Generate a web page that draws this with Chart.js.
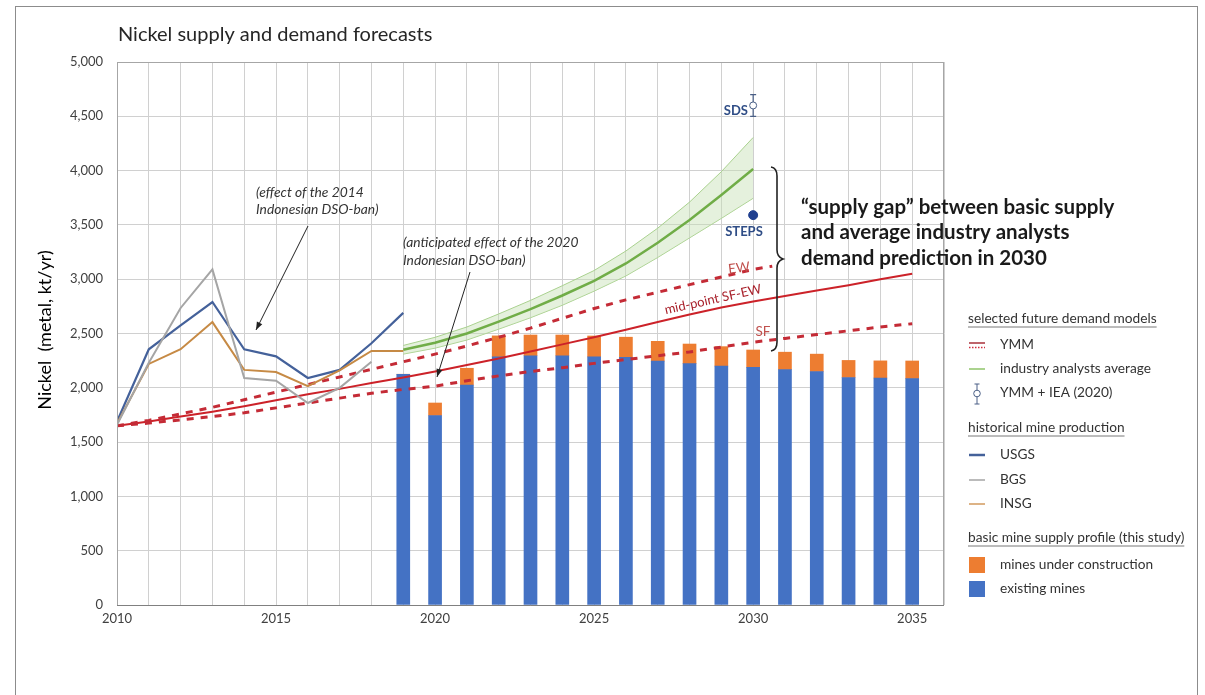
<!DOCTYPE html>
<html>
<head>
<meta charset="utf-8">
<script src="https://cdn.jsdelivr.net/npm/chart.js@4.4.1/dist/chart.umd.min.js"></script>
<style>
  html, body { margin: 0; padding: 0; background: #fff; }
  #wrap { position: relative; width: 1205px; height: 695px; overflow: hidden; }
  #frame { position: absolute; left: 15px; top: 6px; width: 1183px; height: 730px; border: 1.5px solid #8c8c8c; box-sizing: border-box; }
  #c { position: absolute; left: 0; top: 0; }
</style>
</head>
<body>
<div id="wrap"><div id="frame"></div><canvas id="c" width="1205" height="695"></canvas></div>
<script>
// ---------- données ----------
const histYears = [2010, 2011, 2012, 2013, 2014, 2015, 2016, 2017, 2018, 2019];
const usgs = [1690, 2355, 2575, 2790, 2355, 2290, 2090, 2165, 2410, 2690];
const bgs  = [1660, 2230, 2735, 3090, 2090, 2065, 1860, 2000, 2240];
const insg = [1670, 2220, 2355, 2605, 2165, 2145, 2015, 2160, 2340, 2340];

const ymmYears = [2010, 2011, 2012, 2013, 2014, 2015, 2016, 2017, 2018, 2019, 2020, 2021, 2022,
                  2023, 2024, 2025, 2026, 2027, 2028, 2029, 2030, 2031, 2032, 2033, 2034, 2035];
const ymmMid = [1650, 1690, 1735, 1780, 1830, 1885, 1940, 1990, 2045, 2095, 2150, 2210, 2270,
                2335, 2400, 2465, 2535, 2605, 2675, 2740, 2795, 2845, 2895, 2945, 3000, 3050];
const ewYears = [2010, 2011, 2012, 2013, 2014, 2015, 2016, 2017, 2018, 2019, 2020, 2021, 2022,
                 2023, 2024, 2025, 2026, 2027, 2028, 2029, 2030, 2030.6];
const ymmEW  = [1650, 1700, 1760, 1820, 1890, 1960, 2030, 2100, 2170, 2240, 2310, 2385, 2465,
                2550, 2640, 2730, 2810, 2880, 2950, 3020, 3090, 3120];
const ymmSF  = [1650, 1675, 1705, 1735, 1770, 1815, 1860, 1905, 1950, 1985, 2015, 2065, 2110,
                2150, 2185, 2225, 2260, 2295, 2330, 2375, 2420, 2455, 2490, 2525, 2560, 2590];

const analystYears = [2019, 2020, 2021, 2022, 2023, 2024, 2025, 2026, 2027, 2028, 2029, 2030];
const analystAvg  = [2350, 2415, 2500, 2610, 2725, 2850, 2985, 3145, 3335, 3545, 3775, 4015];
const analystHigh = [2390, 2465, 2560, 2680, 2805, 2940, 3080, 3260, 3470, 3710, 3990, 4305];
const analystLow  = [2310, 2365, 2440, 2540, 2645, 2760, 2890, 3030, 3200, 3380, 3560, 3745];

const ieaYear = 2030;
const sdsValue = 4600, sdsLow = 4500, sdsHigh = 4700;
const stepsValue = 3590;

const supplyYears = [2019, 2020, 2021, 2022, 2023, 2024, 2025, 2026, 2027, 2028, 2029, 2030, 2031, 2032, 2033, 2034, 2035];
const existingMines     = [2125, 1745, 2025, 2285, 2295, 2295, 2285, 2280, 2245, 2222, 2200, 2188, 2168, 2150, 2095, 2090, 2085];
const constructionMines = [0, 115, 155, 193, 191, 191, 192, 186, 183, 181, 179, 160, 160, 160, 157, 158, 162];

const xTicks = [2010, 2015, 2020, 2025, 2030, 2035];

// ---------- helpers ----------
const FONT = 'Lato, "Open Sans", sans-serif';
const pts = (xs, ys) => ys.map((y, i) => ({ x: xs[i], y }));
const line = (label, data, color, width, extra = {}) => ({
  type: 'line', label, data, borderColor: color, borderWidth: width,
  pointRadius: 0, tension: 0, fill: false, order: 1, ...extra
});

function arrow(ctx, x1, y1, x2, y2) {
  ctx.save();
  ctx.strokeStyle = '#222'; ctx.fillStyle = '#222'; ctx.lineWidth = 1;
  ctx.beginPath(); ctx.moveTo(x1, y1); ctx.lineTo(x2, y2); ctx.stroke();
  const a = Math.atan2(y2 - y1, x2 - x1), L = 8, W = 3;
  ctx.beginPath();
  ctx.moveTo(x2, y2);
  ctx.lineTo(x2 - L * Math.cos(a) + W * Math.sin(a), y2 - L * Math.sin(a) - W * Math.cos(a));
  ctx.lineTo(x2 - L * Math.cos(a) - W * Math.sin(a), y2 - L * Math.sin(a) + W * Math.cos(a));
  ctx.closePath(); ctx.fill();
  ctx.restore();
}

function underlined(ctx, text, x, y) {
  ctx.fillText(text, x, y);
  const w = ctx.measureText(text).width;
  ctx.beginPath(); ctx.moveTo(x, y + 8); ctx.lineTo(x + w, y + 8); ctx.stroke();
}

// ---------- plugin: annotations, légende, titres ----------
const annotations = {
  id: 'annotations',
  afterDatasetsDraw(chart) {
    const { ctx, scales: { x, y } } = chart;
    // barre d'erreur SDS
    const px = x.getPixelForValue(ieaYear);
    const top = y.getPixelForValue(sdsHigh), bot = y.getPixelForValue(sdsLow);
    ctx.save();
    ctx.strokeStyle = '#4a5f86'; ctx.lineWidth = 1.2;
    ctx.beginPath();
    ctx.moveTo(px, top); ctx.lineTo(px, y.getPixelForValue(sdsValue) - 3.5);
    ctx.moveTo(px, y.getPixelForValue(sdsValue) + 3.5); ctx.lineTo(px, bot);
    ctx.moveTo(px - 3, top); ctx.lineTo(px + 3, top);
    ctx.moveTo(px - 3, bot); ctx.lineTo(px + 3, bot);
    ctx.stroke();
    ctx.restore();
  },
  afterDraw(chart) {
    const { ctx, chartArea: ca } = chart;
    ctx.save();
    // cadre de la zone de tracé
    ctx.strokeStyle = '#a6a6a6'; ctx.lineWidth = 1;
    ctx.strokeRect(ca.left + 0.5, ca.top + 0.5, ca.right - ca.left - 1, ca.bottom - ca.top);
    ctx.strokeStyle = '#808080';
    ctx.beginPath(); ctx.moveTo(ca.left, ca.bottom + 0.5); ctx.lineTo(ca.right, ca.bottom + 0.5); ctx.stroke();

    // titre
    ctx.fillStyle = '#262626'; ctx.font = `20px ${FONT}`;
    ctx.textAlign = 'left'; ctx.textBaseline = 'middle';
    ctx.fillText('Nickel supply and demand forecasts', 118, 35);

    // titre de l'axe Y
    ctx.save();
    ctx.translate(45, 330); ctx.rotate(-Math.PI / 2);
    ctx.textAlign = 'center'; ctx.fillStyle = '#000'; ctx.font = `18px ${FONT}`;
    ctx.fillText('Nickel  (metal, kt/yr)', 0, 0);
    ctx.restore();

    // notes en italique + flèches
    ctx.fillStyle = '#333'; ctx.font = `italic 13.8px ${FONT}`; ctx.textAlign = 'left';
    ctx.fillText('(effect of the 2014', 256, 193);
    ctx.fillText('Indonesian DSO-ban)', 256, 210);
    arrow(ctx, 308, 226, 256, 330);
    ctx.fillText('(anticipated effect of the 2020', 403, 243);
    ctx.fillText('Indonesian DSO-ban)', 403, 261);
    arrow(ctx, 470, 272, 437, 377);

    // étiquettes SDS / STEPS
    ctx.fillStyle = '#2f4d86'; ctx.font = `bold 13px ${FONT}`;
    ctx.textAlign = 'right'; ctx.fillText('SDS', 748, 111);
    ctx.textAlign = 'center'; ctx.fillText('STEPS', 744, 232);

    // étiquettes des modèles YMM
    ctx.font = `13.5px ${FONT}`; ctx.fillStyle = '#c0504d';
    ctx.save(); ctx.translate(739, 268); ctx.rotate(-0.12); ctx.fillText('EW', 0, 0); ctx.restore();
    ctx.fillText('SF', 763, 332);
    ctx.save(); ctx.translate(713, 299.5); ctx.rotate(-0.22);
    ctx.fillStyle = '#a8202a'; ctx.font = `13px ${FONT}`; ctx.fillText('mid-point SF-EW', 0, 0); ctx.restore();

    // accolade "supply gap"
    ctx.strokeStyle = '#222'; ctx.lineWidth = 1.6;
    ctx.beginPath();
    ctx.moveTo(771, 167);
    ctx.quadraticCurveTo(777, 168, 777, 176);
    ctx.lineTo(777, 250);
    ctx.quadraticCurveTo(777, 257, 783, 259);
    ctx.quadraticCurveTo(777, 261, 777, 268);
    ctx.lineTo(777, 342);
    ctx.quadraticCurveTo(777, 350, 771, 351);
    ctx.stroke();

    ctx.fillStyle = '#1a1a1a'; ctx.font = `bold 20.5px ${FONT}`; ctx.textAlign = 'left';
    ctx.fillText('\u201csupply gap\u201d between basic supply', 801, 207);
    ctx.fillText('and average industry analysts', 801, 232);
    ctx.fillText('demand prediction in 2030', 801, 258);

    // légende
    ctx.font = `13.7px ${FONT}`; ctx.fillStyle = '#333'; ctx.strokeStyle = '#555'; ctx.lineWidth = 0.8;
    underlined(ctx, 'selected future demand models', 968, 319);
    underlined(ctx, 'historical mine production', 968, 428);
    underlined(ctx, 'basic mine supply profile (this study)', 968, 538);
    ctx.fillText('YMM', 1000, 345);
    ctx.fillText('industry analysts average', 1000, 369);
    ctx.fillText('YMM + IEA (2020)', 1000, 393);
    ctx.fillText('USGS', 1000, 455);
    ctx.fillText('BGS', 1000, 480);
    ctx.fillText('INSG', 1000, 504);
    ctx.fillText('mines under construction', 1000, 565);
    ctx.fillText('existing mines', 1000, 589);

    const seg = (yy, color, w, dash) => {
      ctx.save(); ctx.strokeStyle = color; ctx.lineWidth = w; ctx.setLineDash(dash || []);
      ctx.beginPath(); ctx.moveTo(969, yy); ctx.lineTo(985, yy); ctx.stroke(); ctx.restore();
    };
    seg(343, '#a8303a', 1.5);
    seg(347.5, '#d03040', 1.5, [1.5, 1.5]);
    seg(369, '#8fc46a', 1.5);
    seg(455, '#44619a', 2.5);
    seg(480, '#a5a5a5', 1.5);
    seg(504, '#d29a5e', 1.5);
    // icône barre d'erreur
    ctx.save(); ctx.strokeStyle = '#4a5f86'; ctx.lineWidth = 1;
    ctx.beginPath();
    ctx.moveTo(977, 384); ctx.lineTo(977, 390); ctx.moveTo(977, 397); ctx.lineTo(977, 404);
    ctx.moveTo(974.5, 384); ctx.lineTo(979.5, 384); ctx.moveTo(974.5, 404); ctx.lineTo(979.5, 404);
    ctx.stroke();
    ctx.beginPath(); ctx.arc(977, 393.5, 3.3, 0, Math.PI * 2); ctx.stroke();
    ctx.restore();
    ctx.fillStyle = '#ed7d31'; ctx.fillRect(969, 557, 16, 16);
    ctx.fillStyle = '#4472c4'; ctx.fillRect(969, 581, 16, 16);

    ctx.restore();
  }
};

// ---------- datasets ----------
const datasets = [
  { type: 'bar', label: 'existing mines', data: pts(supplyYears, existingMines),
    backgroundColor: '#4472c4', barThickness: 13, grouped: false, order: 10 },
  { type: 'bar', label: 'mines under construction',
    data: supplyYears.map((yr, i) => ({ x: yr, y: [existingMines[i], existingMines[i] + constructionMines[i]] })),
    backgroundColor: '#ed7d31', barThickness: 13, grouped: false, order: 10 },

  line('upper', pts(analystYears, analystHigh), '#a9d18e', 1, { fill: '+1', backgroundColor: 'rgba(197,224,180,0.45)', order: 3 }),
  line('lower', pts(analystYears, analystLow), '#a9d18e', 1, { order: 3 }),
  line('industry analysts average', pts(analystYears, analystAvg), '#70ad47', 2.5, { order: 2 }),

  line('BGS', pts(histYears, bgs), '#a5a5a5', 2),
  line('INSG', pts(histYears, insg), '#c68a45', 2),
  line('USGS', pts(histYears, usgs), '#44619a', 2.2),

  line('EW', pts(ewYears, ymmEW), '#c42b36', 3, { borderDash: [7, 7] }),
  line('SF', pts(ymmYears, ymmSF), '#c42b36', 3, { borderDash: [7, 7] }),
  line('mid-point SF-EW', pts(ymmYears, ymmMid), '#cc2229', 2),

  { type: 'scatter', label: 'SDS', data: [{ x: ieaYear, y: sdsValue }], pointRadius: 3.5,
    pointBackgroundColor: '#fff', pointBorderColor: '#4a5f86', pointBorderWidth: 1, order: 0 },
  { type: 'scatter', label: 'STEPS', data: [{ x: ieaYear, y: stepsValue }], pointRadius: 4.5,
    pointBackgroundColor: '#1f3f8f', pointBorderColor: '#1f3f8f', order: 0 }
];

new Chart(document.getElementById('c').getContext('2d'), {
  type: 'line',
  data: { datasets },
  options: {
    responsive: false, animation: false,
    layout: { padding: { left: 0, top: 62, right: 261, bottom: 0 } },
    plugins: { legend: { display: false }, tooltip: { enabled: false } },
    scales: {
      x: {
        type: 'linear', min: 2010, max: 2036, offset: false,
        afterFit: s => { s.height = 90; },
        afterBuildTicks: s => { s.ticks = ymmYears.concat([2036]).map(v => ({ value: v })); },
        grid: { color: '#d0d0d0', drawTicks: false, offset: false },
        border: { display: false },
        ticks: {
          autoSkip: false, maxRotation: 0, padding: 6, color: '#404040',
          font: { family: FONT, size: 13 },
          callback: v => (xTicks.includes(v) ? String(v) : '')
        }
      },
      y: {
        min: 0, max: 5000,
        afterFit: s => { s.width = 117; },
        grid: { color: '#d0d0d0', drawTicks: false },
        border: { display: false },
        ticks: {
          stepSize: 500, padding: 14, color: '#404040',
          font: { family: FONT, size: 13 },
          callback: v => v.toLocaleString('en-US')
        }
      }
    }
  },
  plugins: [annotations]
});
</script>
</body>
</html>
